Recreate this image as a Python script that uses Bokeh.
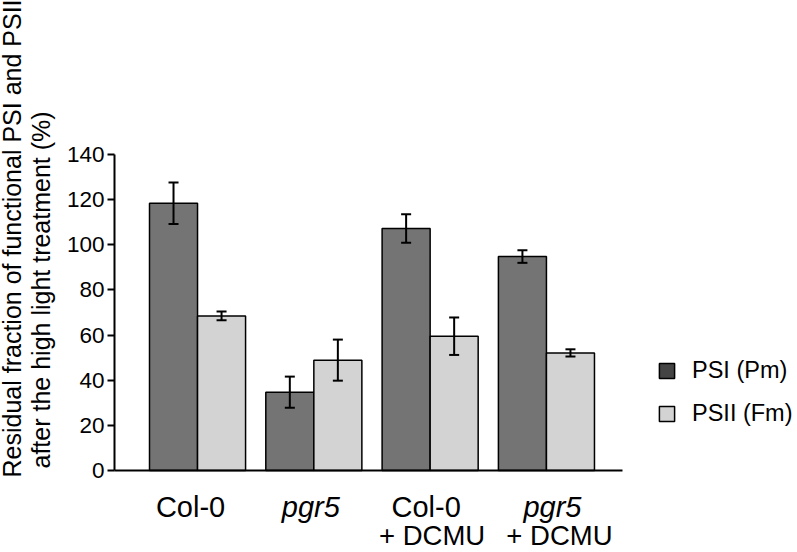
import math
import numpy as np
from bokeh.plotting import figure
from bokeh.models import (ColumnDataSource, Range1d, Whisker, TeeHead,
                          Legend, LegendItem, FixedTicker)
from bokeh.core.properties import value
from bokeh.embed import file_html
from bokeh.resources import INLINE

# ---- data ----
groups_line1 = ["Col-0", "pgr5", "Col-0", "pgr5"]
groups_line2 = ["", "", "+ DCMU", "+ DCMU"]
groups_italic = [False, True, False, True]
psi_values = [118.4, 34.7, 107.2, 94.8]
psi_errors = [9.2, 6.9, 6.3, 2.8]
psii_values = [68.5, 48.9, 59.5, 52.1]
psii_errors = [1.9, 9.1, 8.3, 1.6]
y_ticks = [0, 20, 40, 60, 80, 100, 120, 140]
series_names = ["PSI (Pm)", "PSII (Fm)"]
y_title = ["Residual fraction of functional PSI and PSII",
           "after the high light treatment (%)"]

# ---- style / layout ----
FONT = "Liberation Sans"
PSI_COLOR = "#747474"
PSI_LEGEND_COLOR = "#444444"
PSII_COLOR = "#d3d3d3"
BAR_W = 0.413
OFF = BAR_W / 2
X0, X1 = -0.714, 3.653          # extent of the axes
W, H = 797, 552
line1_dx_px = [-7, -3, -4, 6]   # small horizontal nudges of the category labels
line2_dx_px = [0, 0, 2, 13]

idx = list(range(len(groups_line1)))
psi_src = ColumnDataSource(dict(
    x=[i - OFF for i in idx], top=psi_values,
    lo=[v - e for v, e in zip(psi_values, psi_errors)],
    hi=[v + e for v, e in zip(psi_values, psi_errors)]))
psii_src = ColumnDataSource(dict(
    x=[i + OFF for i in idx], top=psii_values,
    lo=[v - e for v, e in zip(psii_values, psii_errors)],
    hi=[v + e for v, e in zip(psii_values, psii_errors)]))

# frame spans the whole canvas; axes are pinned with fixed_location
px_per_x = 116.3
px_per_y = 2.257
x_start = X0 - 114 / px_per_x
x_end = x_start + W / px_per_x
y_end = 470 / px_per_y
y_start = y_end - H / px_per_y

p = figure(width=W, height=H, output_backend="svg", toolbar_location=None,
           x_range=Range1d(x_start, x_end), y_range=Range1d(y_start, y_end),
           min_border=0)
p.outline_line_color = None
p.grid.visible = False

p.vbar(x="x", top="top", bottom=0, width=BAR_W, source=psi_src,
       fill_color=PSI_COLOR, line_color="black", line_width=1.5)
p.vbar(x="x", top="top", bottom=0, width=BAR_W, source=psii_src,
       fill_color=PSII_COLOR, line_color="black", line_width=1.5)

for src in (psi_src, psii_src):
    w = Whisker(source=src, base="x", lower="lo", upper="hi", level="overlay",
                line_color="black", line_width=2,
                upper_head=TeeHead(size=10, line_color="black", line_width=2),
                lower_head=TeeHead(size=10, line_color="black", line_width=2))
    p.add_layout(w)

# legend swatches: proxy renderers with no drawable point
nan = np.array([np.nan])
r1 = p.vbar(x=nan, top=nan, width=0.1, fill_color=PSI_LEGEND_COLOR,
            line_color="black", line_width=1.5)
r2 = p.vbar(x=nan, top=nan, width=0.1, fill_color=PSII_COLOR,
            line_color="black", line_width=1.5)
legend = Legend(items=[LegendItem(label=series_names[0], renderers=[r1]),
                       LegendItem(label=series_names[1], renderers=[r2])],
                location=(657, 125), border_line_color=None,
                background_fill_alpha=0, padding=0, margin=0,
                glyph_width=19, glyph_height=19, label_standoff=16,
                spacing=16, label_text_font=FONT, label_text_font_size="23.5px",
                label_text_color="black")
p.add_layout(legend, "center")

# y axis
ya = p.yaxis[0]
ya.fixed_location = X0
ya.bounds = (0, 140)
ya.ticker = FixedTicker(ticks=y_ticks)
ya.axis_line_width = 2
ya.axis_line_color = "black"
ya.major_tick_line_width = 2
ya.major_tick_out = 7
ya.major_tick_in = 0
ya.minor_tick_out = 0
ya.minor_tick_in = 0
ya.major_label_standoff = 3
ya.major_label_text_font = FONT
ya.major_label_text_font_size = "22.5px"
ya.major_label_text_color = "black"

# x axis: line only, at y = 0
xa = p.xaxis[0]
xa.fixed_location = 0
xa.bounds = (X0, X1)
xa.axis_line_width = 2
xa.axis_line_color = "black"
xa.major_tick_out = 0
xa.major_tick_in = 0
xa.minor_tick_out = 0
xa.minor_tick_in = 0
xa.ticker = FixedTicker(ticks=[])
xa.major_label_text_font_size = "0px"

# category labels
line1_y = -(506 - 470) / px_per_y
line2_y = -(535 - 470) / px_per_y
for i in idx:
    p.text(x=[i + line1_dx_px[i] / px_per_x], y=[line1_y], text=[groups_line1[i]],
           text_align="center", text_baseline="alphabetic", text_font=value(FONT),
           text_font_size="29px", text_color="black",
           text_font_style="italic" if groups_italic[i] else "normal")
    if groups_line2[i]:
        p.text(x=[i + line2_dx_px[i] / px_per_x], y=[line2_y], text=[groups_line2[i]],
               text_align="center", text_baseline="alphabetic", text_font=value(FONT),
               text_font_size="27.5px", text_color="black")

# y axis title (two rotated lines)
p.text(x=[x_start + 11 / px_per_x], y=[-(477 - 470) / px_per_y], text=[y_title[0]],
       angle=math.pi / 2, text_align="left", text_baseline="alphabetic",
       text_font=value(FONT), text_font_size="25px", text_color="black")
p.text(x=[x_start + 40 / px_per_x], y=[(470 - 468) / px_per_y], text=[y_title[1]],
       angle=math.pi / 2, text_align="left", text_baseline="alphabetic",
       text_font=value(FONT), text_font_size="25px", text_color="black")

open("out.html", "w").write(file_html(p, INLINE))
